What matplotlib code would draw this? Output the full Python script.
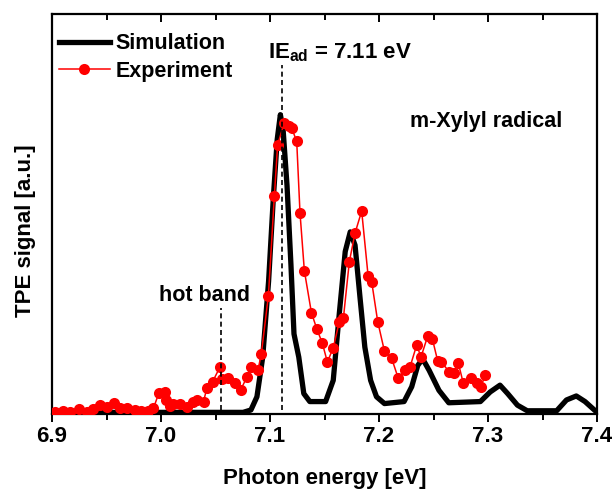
import matplotlib
matplotlib.use("Agg")
import matplotlib.pyplot as plt
import matplotlib.lines as mlines
from matplotlib.lines import Line2D
from matplotlib.ticker import MultipleLocator

plt.rcParams["font.family"] = ["Liberation Sans", "DejaVu Sans"]
plt.rcParams["font.weight"] = "bold"
plt.rcParams["axes.labelweight"] = "bold"
plt.rcParams["mathtext.fontset"] = "custom"
plt.rcParams["mathtext.rm"] = "Liberation Sans:bold"
plt.rcParams["mathtext.bf"] = "Liberation Sans:bold"

# simulated TPE spectrum (digitised)
sim_x = [6.900, 7.0753, 7.0825, 7.088, 7.0933, 7.0987, 7.103, 7.1066, 7.1095, 7.112,
         7.1156, 7.1192, 7.122, 7.1264, 7.131, 7.1365, 7.151, 7.158, 7.1635, 7.169,
         7.1736, 7.178, 7.1826, 7.187, 7.1923, 7.1977, 7.205, 7.223, 7.230, 7.2355,
         7.240, 7.246, 7.255, 7.264, 7.293, 7.302, 7.311, 7.318, 7.327, 7.336,
         7.363, 7.372, 7.381, 7.389, 7.400]
sim_y = [0.004, 0.004, 0.010, 0.043, 0.142, 0.332, 0.538, 0.686, 0.748, 0.711,
         0.571, 0.373, 0.200, 0.142, 0.051, 0.031, 0.031, 0.084, 0.249, 0.406,
         0.455, 0.422, 0.290, 0.167, 0.084, 0.043, 0.026, 0.031, 0.068, 0.121,
         0.138, 0.109, 0.059, 0.028, 0.031, 0.055, 0.072, 0.051, 0.022, 0.008,
         0.008, 0.035, 0.045, 0.031, 0.004]

exp_x = [6.9027, 6.910, 6.9165, 6.925, 6.932, 6.938, 6.944, 6.950, 6.957, 6.962,
         6.969, 6.976, 6.982, 6.988, 6.993, 6.998, 7.004, 7.005, 7.008, 7.011,
         7.0175, 7.0236, 7.0296, 7.033, 7.039, 7.042, 7.0474, 7.054, 7.0557, 7.0618,
         7.068, 7.073, 7.079, 7.083, 7.089, 7.092, 7.0985, 7.104, 7.107, 7.113,
         7.117, 7.120, 7.1245, 7.1275, 7.1315, 7.138, 7.143, 7.148, 7.1526, 7.158,
         7.1636, 7.1673, 7.1728, 7.178, 7.1841, 7.190, 7.1933, 7.1988, 7.2049, 7.2116,
         7.2177, 7.2239, 7.2284, 7.2346, 7.2385, 7.2447, 7.249, 7.2538, 7.2569, 7.2642,
         7.2685, 7.2728, 7.2773, 7.2844, 7.2896, 7.2936, 7.2972]
exp_y = [0.004, 0.008, 0.005, 0.012, 0.006, 0.013, 0.022, 0.017, 0.027, 0.014,
         0.014, 0.010, 0.007, 0.008, 0.014, 0.052, 0.056, 0.035, 0.020, 0.025,
         0.025, 0.017, 0.031, 0.035, 0.031, 0.064, 0.081, 0.117, 0.087, 0.089,
         0.077, 0.060, 0.093, 0.118, 0.110, 0.150, 0.295, 0.545, 0.673, 0.727,
         0.720, 0.714, 0.681, 0.503, 0.358, 0.253, 0.212, 0.177, 0.130, 0.165,
         0.231, 0.239, 0.381, 0.452, 0.507, 0.345, 0.330, 0.231, 0.158, 0.139,
         0.089, 0.110, 0.117, 0.1725, 0.142, 0.195, 0.187, 0.133, 0.131, 0.106,
         0.103, 0.127, 0.077, 0.089, 0.078, 0.067, 0.0975]

ie_ad = 7.111
hot_band = 7.055

fig = plt.figure(figsize=(6.12, 4.94), dpi=100)
ax = fig.add_axes([0.085, 0.162, 0.8905, 0.81])

ax.plot(sim_x, sim_y, color="black", lw=3.8, solid_joinstyle="round", zorder=2)
ax.plot(exp_x, exp_y, color="#ff0000", lw=1.1, marker="o", ms=8,
        markeredgewidth=0, zorder=3)

ax.plot([ie_ad, ie_ad], [0.01, 0.872], color="black", lw=1.2, ls=(0, (3, 2)), zorder=4)
ax.plot([hot_band, hot_band], [0.01, 0.266], color="black", lw=1.2, ls=(0, (3, 2)), zorder=4)

ax.text(7.0985, 0.902, r"IE$_{\mathrm{ad}}$ = 7.11 eV", fontsize=16, va="center", ha="left")
ax.text(7.040, 0.295, "hot band", fontsize=15.5, va="center", ha="center")
ax.text(7.298, 0.732, "m-Xylyl radical", fontsize=15.5, va="center", ha="center")

handles = [Line2D([], [], color="black", lw=3.8),
           Line2D([], [], color="#ff0000", lw=1.1, marker="o", ms=8, markeredgewidth=0)]
ax.legend(handles, ["Simulation", "Experiment"], loc="upper left",
          bbox_to_anchor=(0.012, 0.952), frameon=False, fontsize=15.5,
          handlelength=2.4, handletextpad=0.25, labelspacing=0.32,
          borderpad=0, borderaxespad=0)

ax.set_xlim(6.9, 7.4)
ax.set_ylim(0, 1.0)
ax.xaxis.set_major_locator(MultipleLocator(0.1))
ax.xaxis.set_minor_locator(MultipleLocator(0.05))
ax.set_yticks([])
ax.tick_params(axis="x", which="major", direction="out", length=6, width=1.4,
               labelsize=16, pad=3, top=True, labeltop=False)
ax.tick_params(axis="x", which="minor", direction="out", length=4.5, width=1.4, top=True)
for s in ax.spines.values():
    s.set_linewidth(1.6)

ax.set_xlabel("Photon energy [eV]", fontsize=16, labelpad=15)
ax.set_ylabel("TPE signal [a.u.]", fontsize=16)
ax.yaxis.set_label_coords(-0.0293, 0.4575)

# top ticks point inward, bottom ones outward
fig.canvas.draw()
for t in ax.xaxis.get_major_ticks() + ax.xaxis.get_minor_ticks():
    t.tick2line.set_marker(mlines.TICKDOWN)

fig.savefig("out.png", dpi=100)
